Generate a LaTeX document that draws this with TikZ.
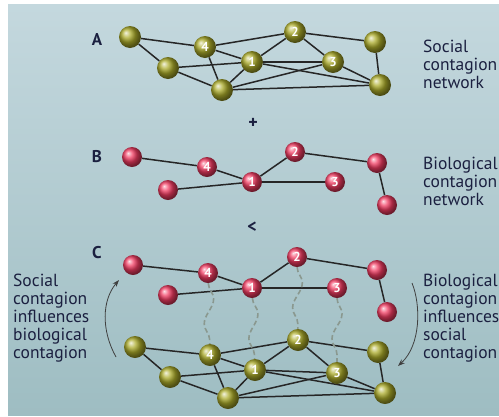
\documentclass[tikz,border=0pt]{standalone}
\usepackage{fontspec}
\setmainfont{PT Sans}
\usetikzlibrary{decorations.pathmorphing,arrows.meta}
\pgfdeclarelayer{back}
\pgfdeclarelayer{edges}
\pgfsetlayers{back,edges,main}
\definecolor{bgtop}{HTML}{C4D8DE}
\definecolor{bgbot}{HTML}{9EBDC2}
\definecolor{olv}{HTML}{ABAB2A}
\definecolor{rd}{HTML}{F23C62}
\definecolor{ink}{HTML}{1B2040}
\definecolor{dsh}{HTML}{8A988F}
\tikzset{
  gball/.style={circle, shading=ball, ball color=olv, minimum size=22pt, inner sep=0pt,
    font=\fontsize{13}{13}\selectfont\bfseries, text=white},
  rball/.style={circle, shading=ball, ball color=rd, minimum size=20pt, inner sep=0pt,
    font=\fontsize{13}{13}\selectfont\bfseries, text=white},
  link/.style={draw=black!85, line width=1.5pt},
  wave/.style={draw=dsh, line width=1.6pt, dash pattern=on 5pt off 3pt, decorate,
    decoration={snake, amplitude=5pt, segment length=50pt}},
  lbl/.style={font=\fontsize{17.5}{18}\selectfont, text=ink, align=left, anchor=north west, inner sep=0pt},
  panel/.style={font=\fontsize{17}{17}\selectfont\bfseries, text=ink, inner sep=0pt},
  sym/.style={font=\fontsize{18}{18}\selectfont\bfseries, text=ink, inner sep=0pt},
  infl/.style={draw=black!75, line width=0.8pt, -{Stealth[length=7pt,width=5pt]}}
}
\begin{document}
\begin{tikzpicture}[x=1pt,y=-1pt]
\useasboundingbox (0,0) rectangle (499,416);
\clip (0,0) rectangle (499,416);
\begin{pgfonlayer}{back}
\fill[top color=bgtop, bottom color=bgbot] (8,4) rectangle (499,415);
\end{pgfonlayer}

% Panel A
\node[gball] (aL1) at (130,37) {};
\node[gball] (a4) at (205,47) {4};
\node[gball] (a2) at (295,32) {2};
\node[gball] (aR1) at (375,42) {};
\node[gball] (aL2) at (168,68) {};
\node[gball] (a1) at (252,62) {1};
\node[gball] (a3) at (333,62) {3};
\node[gball] (aB) at (222,90) {};
\node[gball] (aR2) at (380,85) {};

% Panel B
\node[rball] (bL1) at (132,157) {};
\node[rball] (b4) at (207,167) {4};
\node[rball] (b2) at (295,152) {2};
\node[rball] (bR1) at (377,163) {};
\node[rball] (bL2) at (168,190) {};
\node[rball] (b1) at (252,182) {1};
\node[rball] (b3) at (335,182) {3};
\node[rball] (bR2) at (387,205) {};

% Panel C red
\node[rball] (cL1) at (133,265) {};
\node[rball] (c4) at (208,273) {4};
\node[rball] (c2) at (297,257) {2};
\node[rball] (cR1) at (377,270) {};
\node[rball] (cL2) at (168,295) {};
\node[rball] (c1) at (252,288) {1};
\node[rball] (c3) at (337,288) {3};
\node[rball] (cR2) at (387,312) {};

% Panel C green
\node[gball] (dL1) at (135,347) {};
\node[gball] (d4) at (210,355) {4};
\node[gball] (d2) at (298,340) {2};
\node[gball] (dR1) at (378,352) {};
\node[gball] (dL2) at (170,377) {};
\node[gball] (d1) at (255,370) {1};
\node[gball] (d3) at (337,373) {3};
\node[gball] (dB) at (228,398) {};
\node[gball] (dR2) at (385,393) {};

\begin{pgfonlayer}{edges}
\foreach \p in {a,d}{
  \foreach \u/\v in {L1/4, L1/L2, 4/2, 4/1, 4/B, 2/1, 2/3, 2/R1, L2/1, L2/B, 1/3, 1/R2, 1/B, B/3, B/R2, 3/R2, R1/R2}
    \draw[link] (\p\u) -- (\p\v);
}
\foreach \p in {b,c}{
  \foreach \u/\v in {L1/4, 4/1, L2/1, 1/2, 1/3, 2/R1, R1/R2}
    \draw[link] (\p\u) -- (\p\v);
}
\foreach \k in {4,1,2,3}
  \draw[wave] (c\k) -- (d\k);
\end{pgfonlayer}

% influence arrows
\coordinate (la) at (116,357);
\coordinate (lb) at (119,280);
\draw[infl] (la) .. controls (101,330) and (102,300) .. (lb);
\coordinate (ra) at (412,283);
\coordinate (rb) at (398,366);
\draw[infl] (ra) .. controls (421,305) and (421,345) .. (rb);

% labels
\node[panel] (pA) at (97,40) {A};
\node[panel] (pB) at (97,157) {B};
\node[panel] (pC) at (97,253) {C};
\node[sym] (plus) at (253,123) {+};
\node[sym] (less) at (252,227) {<};

\node[lbl] (tA) at (423,39.5) {Social\\contagion\\network};
\node[lbl] (tB) at (423,157) {Biological\\contagion\\network};
\node[lbl] (tL) at (13,273.5) {Social\\contagion\\influences\\biological\\contagion};
\node[lbl] (tR) at (423,273.5) {Biological\\contagion\\influences\\social\\contagion};
\end{tikzpicture}
\end{document}
